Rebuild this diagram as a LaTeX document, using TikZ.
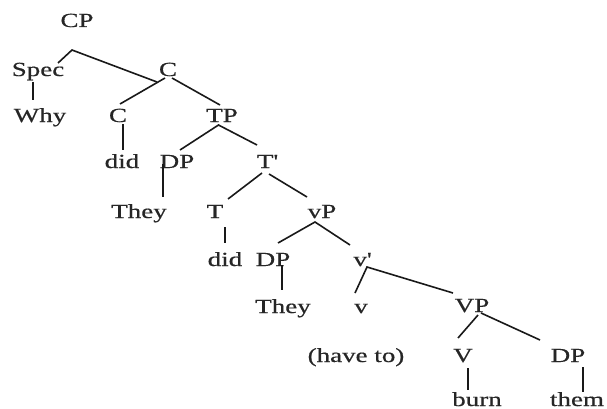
\documentclass[tikz,border=0pt]{standalone}
\usepackage{fontspec}
\setmainfont{Liberation Serif}[FakeStretch=1.35,FakeBold=0.6]
\begin{document}
\begin{tikzpicture}[x=1pt,y=-1pt,
  lbl/.style={anchor=base,inner sep=0pt,text=black!85,font=\fontsize{20}{23}\selectfont},
  br/.style={draw=black!90,line width=1.6pt}]
\useasboundingbox (0,0) rectangle (607,409);
% labels (x = centre, y = baseline)
\node[lbl] (CP)   at (77,27)  {CP};
\node[lbl] (Spec) at (38,76)  {Spec};
\node[lbl] (Cbar) at (168,76) {C};
\node[lbl] (Why)  at (40,122) {Why};
\node[lbl] (C)    at (118,122) {C};
\node[lbl] (TP)   at (222,122) {TP};
\node[lbl] (did1) at (122,168) {did};
\node[lbl] (DP1)  at (177,168) {DP};
\node[lbl] (Tbar) at (267,168) {T\textquotesingle};
\node[lbl] (They1) at (139,218) {They};
\node[lbl] (T)    at (215,218) {T};
\node[lbl] (vP)   at (322,218) {vP};
\node[lbl] (did2) at (225,266) {did};
\node[lbl] (DP2)  at (273,266) {DP};
\node[lbl] (vbar) at (362,266) {v\textquotesingle};
\node[lbl] (They2) at (283,313) {They};
\node[lbl] (v)    at (361,313) {v};
\node[lbl] (VP)   at (472,312) {VP};
\node[lbl] (have) at (356,362) {(have to)};
\node[lbl] (V)    at (463,362) {V};
\node[lbl] (DP3)  at (568,362) {DP};
\node[lbl] (burn) at (477,406) {burn};
\node[lbl] (them) at (577,406) {them};
% branch points
\coordinate (CP-b)   at (72,50);
\coordinate (Spec-t) at (58,63);
\coordinate (Spec-b) at (33,82);
\coordinate (Cbar-t) at (157,82);
\coordinate (Cbar-bl) at (165,78);
\coordinate (Cbar-br) at (172,78);
\coordinate (Why-t)  at (33,100);
\coordinate (C-t)    at (120,104);
\coordinate (C-b)    at (123,124);
\coordinate (TP-t)   at (220,105);
\coordinate (TP-b)   at (218.5,125);
\coordinate (did1-t) at (123,150);
\coordinate (DP1-t)  at (180,150);
\coordinate (DP1-b)  at (163,164);
\coordinate (Tbar-t) at (257,145);
\coordinate (Tbar-bl) at (262,173);
\coordinate (Tbar-br) at (269,174);
\coordinate (They1-t) at (163,197);
\coordinate (T-t)    at (228,199);
\coordinate (T-b)    at (225,227);
\coordinate (vP-t)   at (307,197);
\coordinate (vP-b)   at (315,222);
\coordinate (did2-t) at (225,243);
\coordinate (DP2-t)  at (278,243);
\coordinate (DP2-b)  at (282,265);
\coordinate (vbar-t) at (350,245);
\coordinate (vbar-b) at (367,267);
\coordinate (They2-t) at (282,290);
\coordinate (v-t)    at (355,293);
\coordinate (VP-t)   at (453,293);
\coordinate (VP-bl)  at (478,315);
\coordinate (VP-br)  at (481,313);
\coordinate (V-t)    at (458,338);
\coordinate (V-b)    at (468,368);
\coordinate (DP3-t)  at (540,340);
\coordinate (DP3-b)  at (583,367);
\coordinate (burn-t) at (468,390);
\coordinate (them-t) at (583,392);
% branches
\draw[br] (Spec-t) -- (CP-b) -- (Cbar-t);
\draw[br] (Spec-b) -- (Why-t);
\draw[br] (C-t) -- (Cbar-bl);
\draw[br] (Cbar-br) -- (TP-t);
\draw[br] (C-b) -- (did1-t);
\draw[br] (DP1-t) -- (TP-b) -- (Tbar-t);
\draw[br] (DP1-b) -- (They1-t);
\draw[br] (T-t) -- (Tbar-bl);
\draw[br] (Tbar-br) -- (vP-t);
\draw[br] (T-b) -- (did2-t);
\draw[br] (DP2-t) -- (vP-b) -- (vbar-t);
\draw[br] (DP2-b) -- (They2-t);
\draw[br] (v-t) -- (vbar-b) -- (VP-t);
\draw[br] (V-t) -- (VP-bl);
\draw[br] (VP-br) -- (DP3-t);
\draw[br] (V-b) -- (burn-t);
\draw[br] (DP3-b) -- (them-t);
\end{tikzpicture}
\end{document}
